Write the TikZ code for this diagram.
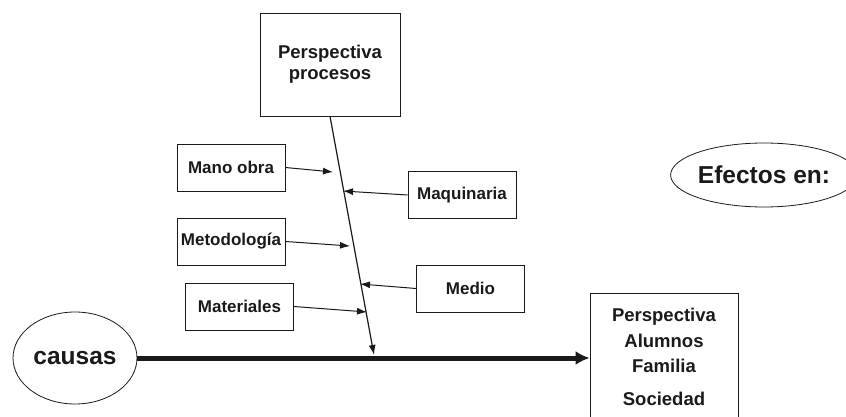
\documentclass[tikz,border=0pt]{standalone}
\usepackage{fontspec}
\setmainfont{Liberation Sans}
\usetikzlibrary{arrows.meta,shapes.geometric}
\definecolor{ink}{HTML}{1A1A1A}
\begin{document}
\begin{tikzpicture}[x=1pt,y=-1pt,
  every node/.style={text=ink, font=\bfseries},
  cause/.style={draw=ink, line width=0.8pt, minimum width=108pt, minimum height=47pt,
    inner sep=0pt, font=\bfseries\fontsize{17}{19}\selectfont},
  bigbox/.style={draw=ink, line width=0.8pt, align=center},
  oval/.style={draw=ink, line width=0.8pt, ellipse, inner sep=0pt,
    font=\bfseries\fontsize{24.5}{28}\selectfont},
  bone/.style={draw=ink, line width=1pt, -{Latex[length=10pt,width=7pt]}},
  spine/.style={draw=ink, line width=1.2pt}
]
\useasboundingbox (0,0) rectangle (846,417);
\clip (0,0) rectangle (846,417);

% head boxes and ovals
\node[bigbox, minimum width=140pt, minimum height=103pt,
  font=\bfseries\fontsize{18.5}{21}\selectfont] (proc) at (330,64.5) {Perspectiva\\procesos};
\node[bigbox, anchor=north, minimum width=148pt, inner ysep=15pt,
  font=\bfseries\fontsize{18.5}{25.5}\selectfont] (efec) at (664,293)
  {Perspectiva\\Alumnos\\Familia\\[7pt]Sociedad\\[6pt]};
\node[oval, minimum width=124pt, minimum height=92pt] (causas) at (75,358) {causas};
\node[oval, minimum width=182pt, minimum height=64pt] (efectos) at (764,175) {Efectos en:};

% cause boxes
\node[cause] (mano) at (231,167.5) {Mano obra};
\node[cause] (maq)  at (462,195)   {Maquinaria};
\node[cause] (met)  at (231,241.5) {Metodología};
\node[cause] (med)  at (470.5,288.5) {Medio};
\node[cause] (mat)  at (239.5,306.5) {Materiales};

% spine of the diagram
\coordinate (sTop) at (330,116);
\coordinate (sBot) at (374,355);
\draw[spine, -{Latex[length=10pt,width=7pt]}] (proc.south -| sTop) -- (sBot);

% main effect axis
\draw[draw=ink, line width=5pt, -{Latex[length=14pt,width=14pt]}] (causas.east) -- (efec.west |- causas.east);

% ribs pointing at the spine
\coordinate (pMano) at (333,172);
\coordinate (pMaq)  at (343,191);
\coordinate (pMet)  at (350,246);
\coordinate (pMed)  at (360,284);
\coordinate (pMat)  at (367,312);
\draw[bone] (mano.east) -- (pMano);
\draw[bone] (maq.west)  -- (pMaq);
\draw[bone] (met.east)  -- (pMet);
\draw[bone] (med.west)  -- (pMed);
\draw[bone] (mat.east)  -- (pMat);
\end{tikzpicture}
\end{document}
